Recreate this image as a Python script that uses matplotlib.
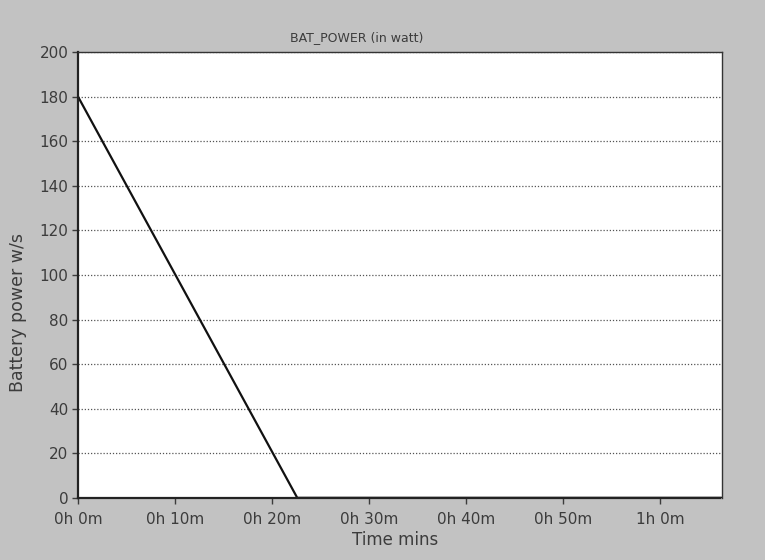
import matplotlib
matplotlib.use("Agg")
import matplotlib.pyplot as plt

# data
time_min = [0, 22.6, 66.4]
power_w = [180, 0, 0]
x_ticks = [0, 10, 20, 30, 40, 50, 60]
x_labels = ["0h 0m", "0h 10m", "0h 20m", "0h 30m", "0h 40m", "0h 50m", "1h 0m"]
y_ticks = [0, 20, 40, 60, 80, 100, 120, 140, 160, 180, 200]

txt = "#3c3c3c"

fig = plt.figure(figsize=(7.65, 5.6), dpi=100, facecolor="#c2c2c2")
ax = fig.add_axes([0.102, 0.111, 0.842, 0.796])
ax.set_facecolor("white")

ax.plot(time_min, power_w, color="#111111", lw=1.6)

ax.set_xlim(0, 66.4)
ax.set_ylim(0, 200)
ax.set_xticks(x_ticks)
ax.set_xticklabels(x_labels)
ax.set_yticks(y_ticks)

ax.yaxis.grid(True, linestyle=(0, (1, 1.5)), color="#555555", lw=0.9)
ax.tick_params(colors=txt, labelsize=11, length=4, width=1)
ax.tick_params(axis="x", pad=6)
ax.tick_params(axis="y", pad=3)

for s in ["left", "bottom"]:
    ax.spines[s].set_linestyle((0, (1, 1)))
    ax.spines[s].set_linewidth(1.6)
    ax.spines[s].set_color("#222222")
for s in ["top", "right"]:
    ax.spines[s].set_linewidth(1.0)
    ax.spines[s].set_color("#333333")

fig.text(357 / 765, 1 - 38 / 560, "BAT_POWER (in watt)", fontsize=9,
         color=txt, ha="center", va="center")
fig.text(395 / 765, 1 - 540 / 560, "Time mins", fontsize=12,
         color=txt, ha="center", va="center")
fig.text(18 / 765, 1 - 312 / 560, "Battery power w/s", fontsize=12.5,
         color=txt, ha="center", va="center", rotation=90)

fig.savefig("out.png", dpi=100, facecolor=fig.get_facecolor())
